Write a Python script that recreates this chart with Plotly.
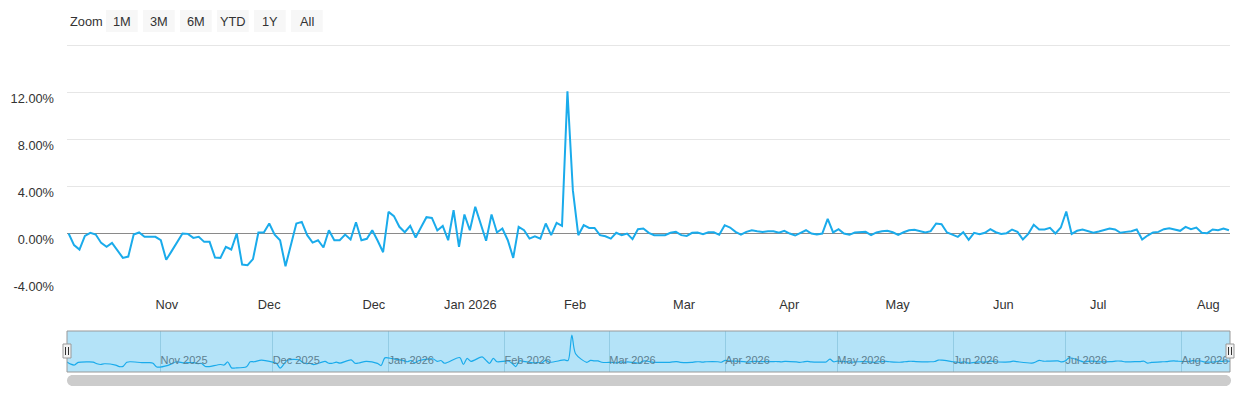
import pandas as pd
import plotly.graph_objects as go

# daily change in % (one value per trading day)
oct_nov = [0, -0.99, -1.36, -0.2, 0.06, -0.09, -0.8, -1.13, -0.8, -1.42,
           -2.07, -1.96, -0.09, 0.09, -0.28, -0.28, -0.28, -0.57, -2.24, -1.5,
           -0.8, 0, -0.03, -0.37, -0.28, -0.71, -0.71, -2.04, -2.07, -1.13,
           -1.36, 0, -2.64, -2.7, -2.18, 0.09, 0.09, 0.85]
dec_jan = [-0.09, -0.57, -2.78, -0.99, 0.85, 0.99, -0.14, -0.77, -0.57, -1.19,
           0.28, -0.57, -0.57, -0.09, -0.51, 0.96, -0.57, -0.45, 0.28, -0.62,
           -1.59, 1.84, 1.48, 0.57, 0.11, 0.65, -0.34, 0.54, 1.39, 1.33,
           0.26, 0.65, -0.57, 1.98, -1.13, 1.62, 0.28]
jan_feb = [2.27, 0.85, -0.62, 1.62, 0.09, 0.43, -0.57, -2.07, 0.57, 0.28,
           -0.43, -0.23, -0.43, 0.85, -0.14, 0.91, 0.65, 12.11, 3.69, -0.14,
           0.71, 0.48, 0.48, -0.14, -0.23, -0.43, 0.06, -0.14, 0, -0.48,
           0.37, 0.43, 0.06, -0.14, -0.17]
mar = [-0.14, 0.06, 0.14, -0.14, -0.2, 0.06, 0.09, -0.06, 0.11, 0.11, -0.11]
apr_may = [0.71, 0.51, 0.14, -0.09, 0.14, 0.28, 0.2, 0.14, 0.2, 0.2,
           0.06, 0.23, 0, -0.17, 0.06, 0.28, 0, -0.09, 0, 1.25,
           0.09, 0.37, 0, -0.11, 0.09, 0.09, 0.14, -0.14]
may_jul = [0.09, 0.2, 0.23, 0.11, -0.11, 0.11, 0.28, 0.31, 0.2, 0.09,
           0.2, 0.85, 0.79, 0.09, -0.09, -0.28, 0.11, -0.54, 0.06, -0.06,
           0.06, 0.37, 0.11, -0.03, 0.03, 0.34, 0.14, -0.51, -0.03, 0.74,
           0.34, 0.34, 0.48, 0, 0.51, 1.87, -0.03]
jul_aug = [0.23, 0.34, 0.23, 0.06, 0.17, 0.28, 0.43, 0.34, 0.06, 0.14,
           0.2, 0.34, -0.51, -0.17, 0.09, 0.14, 0.37, 0.45, 0.34, 0.23,
           0.57, 0.37, 0.51, 0.06, 0.03, 0.34, 0.28, 0.43, 0.28]
values = oct_nov + dec_jan + jan_feb + mar + apr_may + may_jul + jul_aug

holidays = ["2025-11-27", "2025-12-25", "2026-01-01", "2026-01-19", "2026-02-16",
            "2026-04-03", "2026-05-25", "2026-06-19", "2026-07-03"]
dates = pd.bdate_range("2025-10-07", "2026-08-14", freq="C", holidays=holidays)
n = min(len(values), len(dates))
values = values[:n]
dates = dates[:n]
idx = list(range(n))

# main axis labels (ordinal axis, positions in points)
main_tick_pos = [18.1, 37.0, 56.3, 74.1, 93.4, 113.5, 132.9, 152.9, 172.4, 189.9, 210.2]
main_tick_text = ["Nov", "Dec", "Dec", "Jan 2026", "Feb", "Mar", "Apr", "May", "Jun", "Jul", "Aug"]
y_ticks = [-4, 0, 4, 8, 12]
y_text = ["-4.00%", "0.00%", "4.00%", "8.00%", "12.00%"]
y_top = 16

nav_ticks = pd.date_range("2025-11-01", "2026-08-01", freq="MS")
nav_text = [d.strftime("%b %Y") for d in nav_ticks]

buttons = ["1M", "3M", "6M", "YTD", "1Y", "All"]

W, H = 1240, 400
def px(x):
    return x / W
def py(y):
    return 1 - y / H

line_col = "#1aabeb"
font = "Liberation Sans, Arial, sans-serif"

fig = go.Figure()
fig.add_trace(go.Scatter(
    x=idx, y=values, mode="lines",
    line=dict(color=line_col, width=2),
    customdata=[d.strftime("%b %d, %Y") for d in dates],
    hovertemplate="%{customdata}<br>%{y:.2f}%<extra></extra>",
))
# navigator series
fig.add_trace(go.Scatter(
    x=dates, y=values, mode="lines", xaxis="x2", yaxis="y2",
    line=dict(color=line_col, width=1.2, shape="spline", smoothing=0.8),
    hoverinfo="skip",
))

shapes = []
# top gridline (no label)
shapes.append(dict(type="line", xref="paper", yref="y", layer="below",
                   x0=px(67), x1=px(1230), y0=y_top, y1=y_top,
                   line=dict(color="#e6e6e6", width=1)))
# navigator mask + outline
shapes.append(dict(type="rect", xref="paper", yref="paper", layer="below",
                   x0=px(67), x1=px(1230), y0=py(372), y1=py(331),
                   fillcolor="rgba(26,171,235,0.33)", line=dict(width=0)))
shapes.append(dict(type="rect", xref="paper", yref="paper",
                   x0=px(67), x1=px(1230), y0=py(372), y1=py(331),
                   line=dict(color="#999999", width=1)))
# handles
for hx in [67, 1230]:
    shapes.append(dict(type="rect", xref="paper", yref="paper",
                       x0=px(hx - 4), x1=px(hx + 4), y0=py(358), y1=py(344),
                       fillcolor="#f2f2f2", line=dict(color="#999999", width=1)))
    for off in [-1.5, 1.5]:
        shapes.append(dict(type="line", xref="paper", yref="paper",
                           x0=px(hx + off), x1=px(hx + off), y0=py(355), y1=py(347),
                           line=dict(color="#333333", width=1)))
# scrollbar
r = 5.5
x0, x1, yt, yb = 67, 1231, 375, 386
ym = (yt + yb) / 2
k = 0.55 * r
def P(x, y):
    return f"{px(x)},{py(y)}"
path = (f"M{P(x0 + r, yt)} L{P(x1 - r, yt)} "
        f"C{P(x1 - r + k, yt)} {P(x1, ym - k)} {P(x1, ym)} "
        f"C{P(x1, ym + k)} {P(x1 - r + k, yb)} {P(x1 - r, yb)} "
        f"L{P(x0 + r, yb)} "
        f"C{P(x0 + r - k, yb)} {P(x0, ym + k)} {P(x0, ym)} "
        f"C{P(x0, ym - k)} {P(x0 + r - k, yt)} {P(x0 + r, yt)} Z")
shapes.append(dict(type="path", xref="paper", yref="paper", path=path,
                   fillcolor="#cccccc", line=dict(width=0)))

annotations = [dict(x=px(68), y=py(21.5), xref="paper", yref="paper", text="Zoom",
                    showarrow=False, xanchor="left", yanchor="middle",
                    font=dict(size=12.8, color="#333333", family=font))]
for i, b in enumerate(buttons):
    bx = 106 + 37 * i
    shapes.append(dict(type="rect", xref="paper", yref="paper",
                       x0=px(bx), x1=px(bx + 31.7), y0=py(32), y1=py(10),
                       fillcolor="#f7f7f7", line=dict(width=0)))
    annotations.append(dict(x=px(bx + 15.85), y=py(21.5), xref="paper", yref="paper",
                            text=b, showarrow=False, xanchor="center", yanchor="middle",
                            font=dict(size=12.8, color="#333333", family=font)))

fig.update_layout(
    width=W, height=H,
    margin=dict(l=0, r=0, t=0, b=0),
    paper_bgcolor="white", plot_bgcolor="white",
    showlegend=False,
    font=dict(family=font, size=12.8, color="#333333"),
    xaxis=dict(
        domain=[px(67), px(1230)], range=[-0.3, 214.2],
        tickmode="array", tickvals=main_tick_pos, ticktext=main_tick_text,
        showgrid=False, zeroline=False, showline=False, ticks="",
        ticklabelstandoff=14, automargin=False, fixedrange=True,
    ),
    yaxis=dict(
        domain=[py(281), py(45)], range=[-4.04, 16.04],
        tickmode="array", tickvals=y_ticks, ticktext=y_text,
        showgrid=True, gridcolor="#e6e6e6", gridwidth=1,
        zeroline=True, zerolinecolor="#8a8a8a", zerolinewidth=1,
        showline=False, ticks="", ticklabelstandoff=12, ticklabelshift=6,
        automargin=False, fixedrange=True,
    ),
    xaxis2=dict(
        domain=[px(67), px(1230)], anchor="y2", type="date",
        range=[dates[0], dates[-1]],
        tickmode="array", tickvals=list(nav_ticks), ticktext=nav_text,
        ticklabelposition="inside right",
        tickfont=dict(size=11, color="#5d7f90"),
        showgrid=True, gridcolor="#93cce4", gridwidth=1,
        zeroline=False, showline=False, ticks="", automargin=False, fixedrange=True,
    ),
    yaxis2=dict(
        domain=[py(372), py(331)], anchor="x2", range=[-4.5, 13.9],
        showgrid=False, zeroline=False, showticklabels=False, showline=False,
        automargin=False, fixedrange=True,
    ),
    shapes=shapes,
    annotations=annotations,
)

fig.write_html("out.html", config={"displayModeBar": False},
               post_script="document.body.style.margin='0';document.body.style.overflow='hidden';")
